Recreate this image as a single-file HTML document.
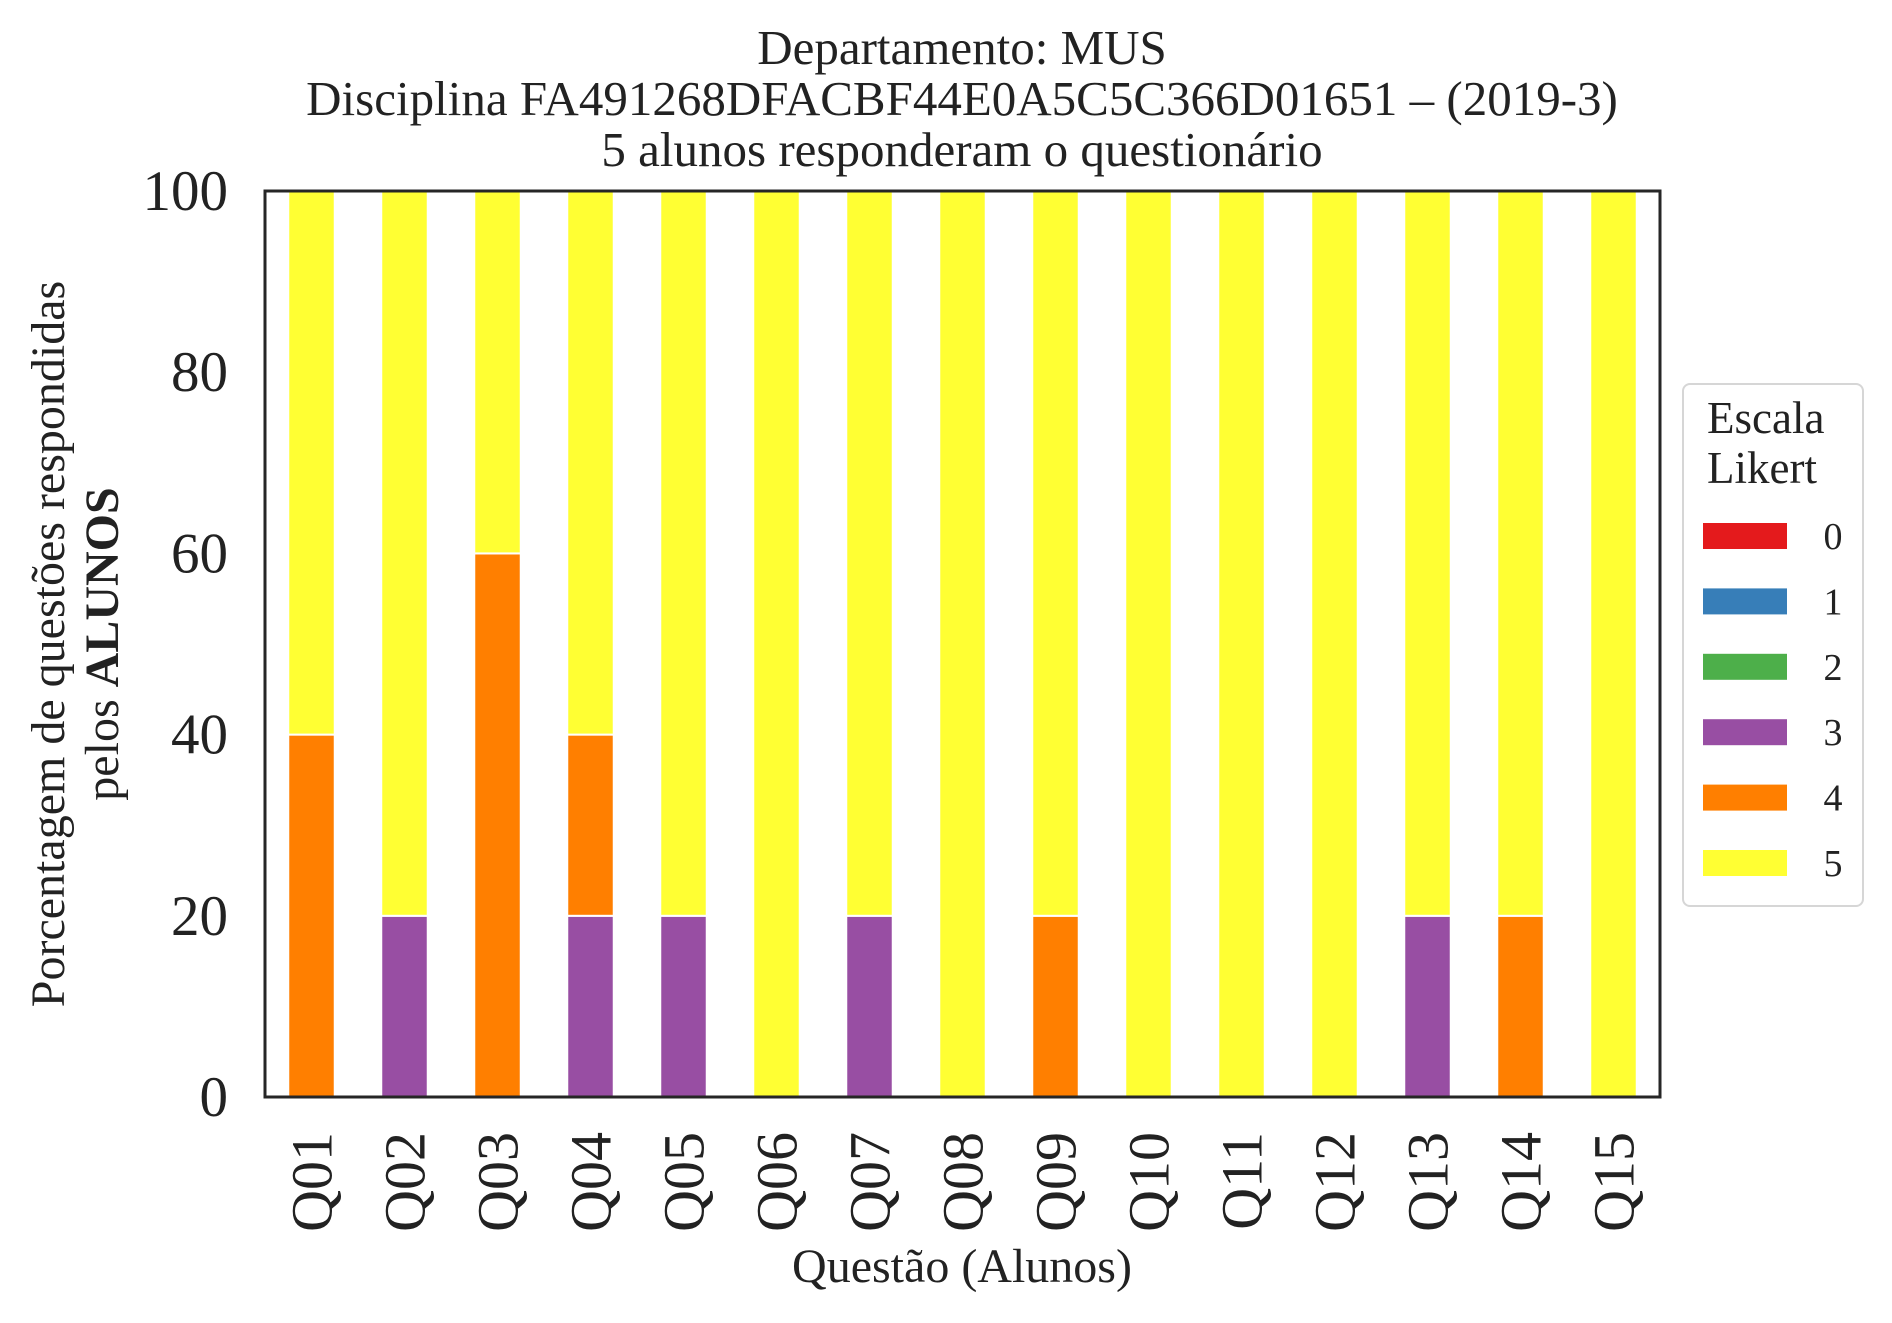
<!DOCTYPE html>
<html><head><meta charset="utf-8"><style>
html,body{margin:0;padding:0;background:#fff}
svg{display:block;font-family:"Liberation Serif","DejaVu Serif",serif}
</style></head><body>
<svg id="chart" width="1892" height="1323" viewBox="0 0 1892 1323">
<g font-size="49" fill="#222" text-anchor="middle">
<text x="962" y="64">Departamento: MUS</text>
<text x="962" y="115">Disciplina FA491268DFACBF44E0A5C5C366D01651 – (2019-3)</text>
<text x="962" y="166">5 alunos responderam o questionário</text>
</g>
<g id="bars"></g>
<rect x="265" y="191" width="1395" height="906" fill="none" stroke="#262626" stroke-width="3"/>
<g id="yticks"></g>
<g id="xticks"></g>
<g font-size="48" fill="#222" text-anchor="middle">
<text transform="translate(64,644) rotate(-90)">Porcentagem de questões respondidas</text>
<text transform="translate(118,644) rotate(-90)">pelos <tspan font-weight="bold">ALUNOS</tspan></text>
</g>
<text x="962" y="1282" font-size="48" fill="#222" text-anchor="middle">Questão (Alunos)</text>
<g>
<rect x="1683" y="384" width="180" height="522" rx="7" fill="#fff" stroke="#d6d6d6" stroke-width="2"/>
<text x="1707" y="433" font-size="45" fill="#222">Escala</text>
<text x="1707" y="483" font-size="45" fill="#222">Likert</text>
<g id="legend-items"></g>
</g>
</svg>
<script>
const categories = ["Q01","Q02","Q03","Q04","Q05","Q06","Q07","Q08","Q09","Q10","Q11","Q12","Q13","Q14","Q15"];
const levels = ["0","1","2","3","4","5"];
const colors = ["#e41a1c","#377eb8","#4daf4a","#984ea3","#ff7f00","#ffff33"];
const s0 = [0,0,0,0,0,0,0,0,0,0,0,0,0,0,0];
const s1 = [0,0,0,0,0,0,0,0,0,0,0,0,0,0,0];
const s2 = [0,0,0,0,0,0,0,0,0,0,0,0,0,0,0];
const s3 = [0,20,0,20,20,0,20,0,0,0,0,0,20,0,0];
const s4 = [40,0,60,20,0,0,0,0,20,0,0,0,0,20,0];
const s5 = [60,80,40,60,80,100,80,100,80,100,100,100,80,80,100];
const series = [s0,s1,s2,s3,s4,s5];
const yTicks = [0,20,40,60,80,100];

const NS="http://www.w3.org/2000/svg";
const X0=265,X1=1660,Y0=1097,Y1=191;
const step=(X1-X0)/categories.length;
const xc=i=>X0+step*(i+0.5);
const y=v=>Y0-(v/100)*(Y0-Y1);
const bw=step*0.5;
function mk(t,a,p){const e=document.createElementNS(NS,t);for(const k in a)e.setAttribute(k,a[k]);p.appendChild(e);return e;}

const bars=document.getElementById('bars');
categories.forEach((c,i)=>{
  let acc=0;
  series.forEach((s,k)=>{
    const v=s[i]; if(!v) return;
    const r=mk('rect',{x:xc(i)-bw/2,y:y(acc+v),width:bw,height:y(acc)-y(acc+v),fill:colors[k],stroke:'#fff','stroke-width':2},bars);
    
    
    acc+=v;
  });
});
const yt=document.getElementById('yticks');
yTicks.forEach(t=>{
  const e=mk('text',{x:228,y:y(t)+19,'font-size':57,fill:'#222','text-anchor':'end'},yt);
  e.textContent=t;
  
  
});
const xt=document.getElementById('xticks');
categories.forEach((c,i)=>{
  const e=mk('text',{transform:`translate(${xc(i)+20},1132) rotate(-90)`,'font-size':58,fill:'#222','text-anchor':'end'},xt);
  e.textContent=c;
  
  
});
const li=document.getElementById('legend-items');
levels.forEach((l,k)=>{
  const cy=536+k*65.4;
  const r=mk('rect',{x:1703,y:cy-13,width:84,height:26,fill:colors[k]},li);
  
  
  const t=mk('text',{x:1833,y:cy+13,'font-size':38,fill:'#222','text-anchor':'middle'},li);
  t.textContent=l;
  
  
});
</script>
</body></html>
